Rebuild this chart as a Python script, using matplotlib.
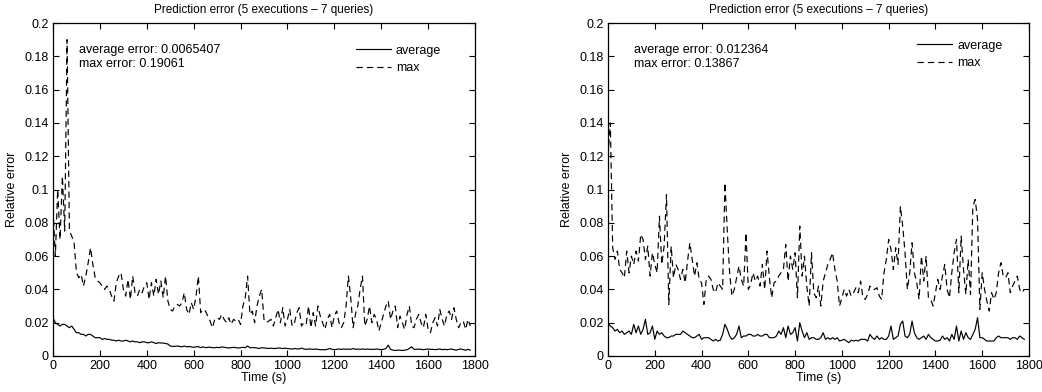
import numpy as np
import matplotlib
matplotlib.use("Agg")
import matplotlib.pyplot as plt

plt.rcParams["font.family"] = ["Liberation Sans", "DejaVu Sans"]
plt.rcParams["lines.scale_dashes"] = False

# sample times (s), one reading every 10 s
t = np.arange(0, 1790, 10)

# left run
left_max = [
    0.088, 0.060, 0.100, 0.070, 0.108, 0.075, 0.190, 0.075, 0.072, 0.068,
    0.050, 0.047, 0.049, 0.042, 0.048, 0.056, 0.065, 0.055, 0.047, 0.045,
    0.044, 0.042, 0.040, 0.042, 0.040, 0.036, 0.033, 0.044, 0.048, 0.050,
    0.040, 0.036, 0.046, 0.034, 0.048, 0.038, 0.036, 0.040, 0.038, 0.042,
    0.044, 0.034, 0.044, 0.036, 0.046, 0.037, 0.045, 0.035, 0.048, 0.033,
    0.028, 0.027, 0.030, 0.031, 0.030, 0.032, 0.038, 0.028, 0.025, 0.032,
    0.028, 0.036, 0.048, 0.026, 0.028, 0.027, 0.024, 0.021, 0.017, 0.022,
    0.023, 0.022, 0.025, 0.022, 0.020, 0.023, 0.019, 0.022, 0.021, 0.022,
    0.019, 0.030, 0.035, 0.048, 0.025, 0.027, 0.020, 0.030, 0.036, 0.040,
    0.022, 0.020, 0.021, 0.022, 0.018, 0.023, 0.028, 0.020, 0.029, 0.018,
    0.022, 0.028, 0.018, 0.020, 0.026, 0.029, 0.018, 0.020, 0.019, 0.030,
    0.017, 0.026, 0.018, 0.030, 0.024, 0.020, 0.016, 0.022, 0.025, 0.017,
    0.024, 0.027, 0.020, 0.017, 0.020, 0.030, 0.048, 0.035, 0.017, 0.025,
    0.030, 0.040, 0.048, 0.018, 0.022, 0.030, 0.020, 0.025, 0.022, 0.015,
    0.020, 0.025, 0.030, 0.033, 0.022, 0.027, 0.030, 0.017, 0.024, 0.020,
    0.016, 0.025, 0.030, 0.018, 0.017, 0.022, 0.025, 0.020, 0.017, 0.025,
    0.016, 0.014, 0.020, 0.023, 0.018, 0.028, 0.022, 0.018, 0.025, 0.027,
    0.022, 0.029, 0.022, 0.017, 0.020, 0.021, 0.016, 0.022, 0.018,
]
left_avg = [
    0.023, 0.020, 0.019, 0.018, 0.019, 0.019, 0.018, 0.017, 0.018, 0.016,
    0.014, 0.014, 0.013, 0.013, 0.012, 0.013, 0.013, 0.012, 0.011, 0.011,
    0.011, 0.010, 0.0105, 0.010, 0.010, 0.0095, 0.0095, 0.009, 0.0095, 0.009,
    0.009, 0.0095, 0.009, 0.0085, 0.009, 0.0085, 0.0085, 0.008, 0.0085, 0.0085,
    0.008, 0.008, 0.0085, 0.008, 0.0075, 0.008, 0.0078, 0.0078, 0.0075, 0.0072,
    0.006, 0.0058, 0.0058, 0.006, 0.0058, 0.0055, 0.006, 0.0055, 0.0057, 0.0055,
    0.0052, 0.0055, 0.0056, 0.005, 0.0055, 0.005, 0.0052, 0.0053, 0.005, 0.005,
    0.0052, 0.005, 0.0055, 0.0052, 0.005, 0.0048, 0.005, 0.0052, 0.005, 0.0048,
    0.005, 0.0052, 0.005, 0.006, 0.005, 0.005, 0.005, 0.0048, 0.0045, 0.005,
    0.0048, 0.0047, 0.0045, 0.0047, 0.0045, 0.0045, 0.0048, 0.0047, 0.0045, 0.0047,
    0.0045, 0.0043, 0.0042, 0.0045, 0.0043, 0.0042, 0.0048, 0.0042, 0.004, 0.0042,
    0.0042, 0.004, 0.0042, 0.004, 0.0038, 0.0038, 0.0037, 0.004, 0.0045, 0.004,
    0.0038, 0.004, 0.0042, 0.004, 0.0042, 0.004, 0.0042, 0.004, 0.0045, 0.004,
    0.0042, 0.004, 0.0042, 0.004, 0.0042, 0.004, 0.004, 0.004, 0.0042, 0.004,
    0.0038, 0.004, 0.0045, 0.0065, 0.004, 0.0035, 0.0033, 0.0035, 0.0035, 0.0033,
    0.0035, 0.0038, 0.0045, 0.0055, 0.004, 0.004, 0.0042, 0.004, 0.0038, 0.004,
    0.0042, 0.004, 0.004, 0.0038, 0.004, 0.0042, 0.0038, 0.004, 0.0038, 0.004,
    0.0042, 0.0038, 0.0035, 0.004, 0.0042, 0.0038, 0.0035, 0.004, 0.0035,
]

# right run
right_max = [
    0.120, 0.140, 0.065, 0.058, 0.063, 0.052, 0.050, 0.047, 0.063, 0.050,
    0.060, 0.055, 0.063, 0.057, 0.073, 0.070, 0.058, 0.066, 0.048, 0.062,
    0.055, 0.050, 0.084, 0.055, 0.066, 0.097, 0.031, 0.066, 0.047, 0.055,
    0.052, 0.046, 0.052, 0.044, 0.057, 0.068, 0.058, 0.048, 0.056, 0.046,
    0.044, 0.031, 0.046, 0.048, 0.046, 0.040, 0.038, 0.044, 0.042, 0.040,
    0.104, 0.075, 0.050, 0.036, 0.040, 0.047, 0.054, 0.046, 0.042, 0.074,
    0.040, 0.043, 0.050, 0.045, 0.048, 0.042, 0.055, 0.040, 0.063, 0.047,
    0.035, 0.044, 0.045, 0.048, 0.050, 0.052, 0.067, 0.045, 0.060, 0.052,
    0.062, 0.035, 0.078, 0.048, 0.060, 0.042, 0.030, 0.062, 0.038, 0.035,
    0.042, 0.030, 0.045, 0.050, 0.055, 0.058, 0.062, 0.052, 0.045, 0.030,
    0.035, 0.040, 0.036, 0.040, 0.036, 0.038, 0.041, 0.038, 0.045, 0.035,
    0.034, 0.037, 0.042, 0.040, 0.040, 0.041, 0.036, 0.034, 0.050, 0.058,
    0.070, 0.064, 0.052, 0.065, 0.055, 0.090, 0.078, 0.062, 0.040, 0.050,
    0.068, 0.050, 0.044, 0.034, 0.060, 0.045, 0.060, 0.035, 0.034, 0.030,
    0.038, 0.046, 0.040, 0.048, 0.055, 0.040, 0.035, 0.050, 0.062, 0.070,
    0.038, 0.072, 0.052, 0.037, 0.058, 0.037, 0.090, 0.094, 0.082, 0.028,
    0.050, 0.040, 0.033, 0.027, 0.038, 0.034, 0.038, 0.050, 0.056, 0.048,
    0.047, 0.050, 0.038, 0.042, 0.045, 0.048, 0.040, 0.038, 0.040,
]
right_avg = [
    0.020, 0.018, 0.017, 0.015, 0.016, 0.014, 0.015, 0.013, 0.014, 0.015,
    0.013, 0.019, 0.014, 0.018, 0.013, 0.016, 0.022, 0.013, 0.014, 0.018,
    0.010, 0.015, 0.013, 0.014, 0.012, 0.011, 0.011, 0.012, 0.012, 0.013,
    0.013, 0.013, 0.015, 0.014, 0.013, 0.012, 0.011, 0.011, 0.012, 0.013,
    0.010, 0.011, 0.011, 0.011, 0.010, 0.009, 0.010, 0.009, 0.0095, 0.013,
    0.019, 0.016, 0.012, 0.010, 0.011, 0.013, 0.018, 0.011, 0.012, 0.012,
    0.013, 0.013, 0.012, 0.012, 0.013, 0.012, 0.012, 0.013, 0.013, 0.011,
    0.011, 0.011, 0.012, 0.015, 0.013, 0.017, 0.011, 0.018, 0.013, 0.014,
    0.017, 0.009, 0.020, 0.015, 0.011, 0.014, 0.010, 0.011, 0.011, 0.010,
    0.010, 0.011, 0.014, 0.010, 0.011, 0.010, 0.011, 0.010, 0.011, 0.009,
    0.0095, 0.010, 0.009, 0.008, 0.0095, 0.009, 0.0095, 0.009, 0.010, 0.010,
    0.010, 0.009, 0.013, 0.011, 0.010, 0.012, 0.010, 0.011, 0.010, 0.010,
    0.012, 0.018, 0.010, 0.011, 0.012, 0.019, 0.021, 0.012, 0.011, 0.013,
    0.021, 0.014, 0.011, 0.010, 0.011, 0.012, 0.010, 0.013, 0.011, 0.010,
    0.009, 0.009, 0.0095, 0.012, 0.010, 0.011, 0.009, 0.013, 0.010, 0.018,
    0.009, 0.015, 0.010, 0.014, 0.011, 0.010, 0.013, 0.016, 0.023, 0.011,
    0.011, 0.010, 0.009, 0.009, 0.009, 0.009, 0.011, 0.012, 0.011, 0.011,
    0.011, 0.011, 0.010, 0.011, 0.011, 0.010, 0.012, 0.011, 0.010,
]

TITLE = "Prediction error (5 executions \u2013 7 queries)"
panels = [
    # (avg, max, avg error, max error, axes rect, legend anchor)
    (left_avg, left_max, "0.0065407", "0.19061",
     [53 / 1042, 36 / 392, 422 / 1042, 333 / 392], (0.718, 0.935)),
    (right_avg, right_max, "0.012364", "0.13867",
     [608 / 1042, 36 / 392, 421 / 1042, 333 / 392], (0.734, 0.950)),
]

fig = plt.figure(figsize=(10.42, 3.92), dpi=100)
for avg, mx, avg_txt, max_txt, rect, anchor in panels:
    ax = fig.add_axes(rect)
    ax.plot(t, avg, color="black", lw=0.85, label="average")
    ax.plot(t, mx, color="black", lw=0.85, dashes=(4.5, 3), label="max")
    ax.set_xlim(0, 1800)
    ax.set_ylim(0, 0.2)
    ax.set_xticks(range(0, 1801, 200))
    ax.set_yticks([0, 0.02, 0.04, 0.06, 0.08, 0.1, 0.12, 0.14, 0.16, 0.18, 0.2])
    ax.set_yticklabels(["0", "0.02", "0.04", "0.06", "0.08", "0.1", "0.12",
                        "0.14", "0.16", "0.18", "0.2"])
    ax.tick_params(direction="in", top=True, right=True, length=4, width=0.8,
                   labelsize=9, pad=3)
    for s in ax.spines.values():
        s.set_linewidth(0.9)
    ax.set_title(TITLE, fontsize=8.5, pad=7)
    ax.set_xlabel("Time (s)", fontsize=9, labelpad=0)
    ax.set_ylabel("Relative error", fontsize=9, labelpad=5)
    ax.text(110, 0.184, f"average error: {avg_txt}", fontsize=9, va="center")
    ax.text(110, 0.1755, f"max error: {max_txt}", fontsize=9, va="center")
    ax.legend(loc="upper left", bbox_to_anchor=anchor, frameon=False,
              fontsize=9, handlelength=2.8, handletextpad=0.4,
              labelspacing=0.45, borderpad=0, borderaxespad=0)

fig.savefig("out.png", dpi=100)
